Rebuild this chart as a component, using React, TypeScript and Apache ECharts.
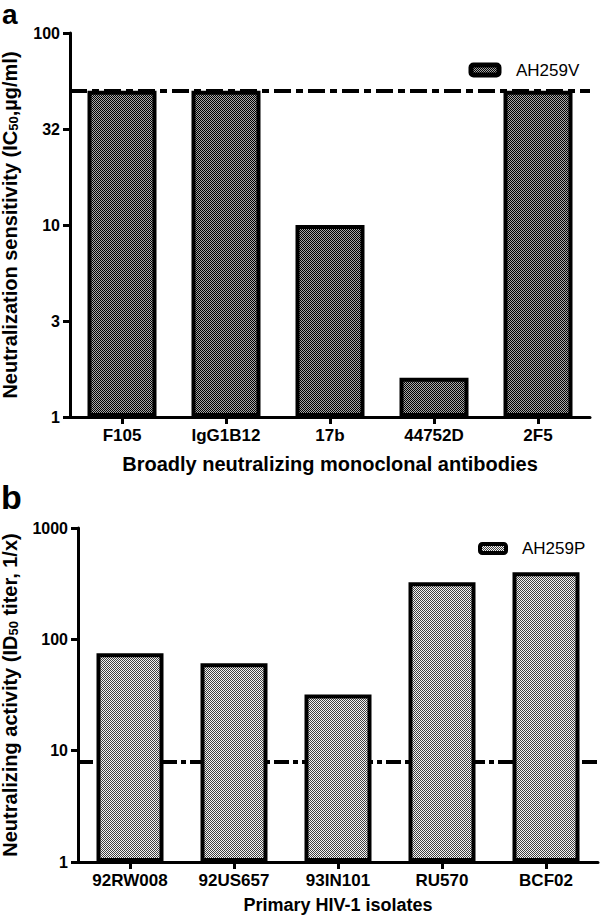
import React, { useEffect, useRef } from "react";
import * as echarts from "echarts";

const aCategories = ["F105", "IgG1B12", "17b", "44752D", "2F5"];
const aValues = [50, 50, 10, 1.6, 50];
const aCutoff = 50;
const aTickLabels = ["1", "3", "10", "32", "100"];
const aSeriesName = "AH259V";

const bCategories = ["92RW008", "92US657", "93IN101", "RU570", "BCF02"];
const bValues = [75, 61, 32, 325, 400];
const bCutoff = 8;
const bTickLabels = ["1", "10", "100", "1000"];
const bSeriesName = "AH259P";

const FONT = "'Liberation Sans', Arial, Helvetica, sans-serif";

function makePattern(dark: string, light: string) {
  const c = document.createElement("canvas");
  c.width = 2;
  c.height = 2;
  const ctx = c.getContext("2d")!;
  ctx.fillStyle = light;
  ctx.fillRect(0, 0, 2, 2);
  ctx.fillStyle = dark;
  ctx.fillRect(0, 0, 1, 1);
  ctx.fillRect(1, 1, 1, 1);
  return { image: c, repeat: "repeat" } as any;
}

export default function App() {
  const ref = useRef<HTMLDivElement>(null);

  useEffect(() => {
    document.body.style.margin = "0";
    const chart = echarts.init(ref.current!, null, { renderer: "svg" });
    const patA = makePattern("#000000", "#a8a8a8");
    const patB = makePattern("#404040", "#f4f4f4");

    const axisLine = { show: true, lineStyle: { color: "#000", width: 3 } };
    const axisTick = { show: true, length: 7, lineStyle: { color: "#000", width: 3 } };
    const tickLabel = { color: "#000", fontSize: 16, fontWeight: "bold", fontFamily: FONT, margin: 10 };
    const catLabel = { color: "#000", fontSize: 17, fontWeight: "bold", fontFamily: FONT, margin: 10 };
    const nameStyle = (size: number) => ({
      color: "#000",
      fontSize: size,
      fontWeight: "bold",
      fontFamily: FONT,
      lineHeight: 20,
      rich: {
        sub: {
          fontSize: 13,
          fontWeight: "bold",
          fontFamily: FONT,
          color: "#000",
          verticalAlign: "bottom",
          lineHeight: 10,
        },
      },
    });

    const option: any = {
      animation: false,
      grid: [
        { left: 70, top: 33, width: 520, height: 384, outerBoundsMode: "none", containLabel: false },
        { left: 78, top: 528, width: 520, height: 334, outerBoundsMode: "none", containLabel: false },
      ],
      legend: [
        {
          data: [aSeriesName],
          left: 468.5,
          top: 61.5,
          padding: 0,
          itemWidth: 28,
          itemHeight: 10,
          selectedMode: false,
          itemStyle: { borderColor: "#000", borderWidth: 5 },
          textStyle: { fontSize: 17, color: "#000", fontFamily: FONT, padding: [0, 0, 0, 12] },
        },
        {
          data: [bSeriesName],
          left: 478,
          top: 540,
          padding: 0,
          itemWidth: 26,
          itemHeight: 9,
          selectedMode: false,
          itemStyle: { borderColor: "#000", borderWidth: 4 },
          textStyle: { fontSize: 17, color: "#000", fontFamily: FONT, padding: [0, 0, 0, 11] },
        },
      ],
      xAxis: [
        {
          gridIndex: 0,
          type: "category",
          data: aCategories,
          axisLine,
          axisTick: { ...axisTick, alignWithLabel: true },
          axisLabel: catLabel,
          name: "Broadly neutralizing monoclonal antibodies",
          nameLocation: "middle",
          nameGap: 37,
          nameTextStyle: { color: "#000", fontSize: 20, fontWeight: "bold", fontFamily: FONT },
        },
        {
          gridIndex: 1,
          type: "category",
          data: bCategories,
          axisLine,
          axisTick: { ...axisTick, alignWithLabel: true },
          axisLabel: catLabel,
          name: "Primary HIV-1 isolates",
          nameLocation: "middle",
          nameGap: 34,
          nameTextStyle: { color: "#000", fontSize: 18, fontWeight: "bold", fontFamily: FONT },
        },
      ],
      yAxis: [
        {
          gridIndex: 0,
          type: "value",
          min: 0,
          max: 2,
          interval: 0.5,
          axisLine,
          axisTick,
          splitLine: { show: false },
          axisLabel: { ...tickLabel, formatter: (v: number) => aTickLabels[Math.round(v / 0.5)] ?? "" },
          name: "Neutralization sensitivity (IC{sub|50},µg/ml)",
          nameLocation: "middle",
          nameRotate: 90,
          nameGap: 50,
          nameTextStyle: nameStyle(20),
        },
        {
          gridIndex: 1,
          type: "value",
          min: 0,
          max: 3,
          interval: 1,
          axisLine,
          axisTick,
          splitLine: { show: false },
          axisLabel: { ...tickLabel, formatter: (v: number) => bTickLabels[Math.round(v)] ?? "" },
          name: "Neutralizing activity (ID{sub|50} titer, 1/x)",
          nameLocation: "middle",
          nameRotate: 90,
          nameGap: 58,
          nameTextStyle: nameStyle(20),
        },
      ],
      series: [
        {
          type: "bar",
          name: aSeriesName,
          xAxisIndex: 0,
          yAxisIndex: 0,
          data: aValues.map((v) => Math.log10(v)),
          barWidth: 69,
          z: 3,
          emphasis: { disabled: true },
          itemStyle: { color: patA, borderColor: "#000", borderWidth: 4 },
          markLine: {
            silent: true,
            symbol: "none",
            z: 2,
            label: { show: false },
            lineStyle: { color: "#000", width: 4, type: [17, 5, 7, 5] },
            emphasis: { disabled: true },
            data: [{ yAxis: Math.log10(aCutoff) }],
          },
        },
        {
          type: "bar",
          name: bSeriesName,
          xAxisIndex: 1,
          yAxisIndex: 1,
          data: bValues.map((v) => Math.log10(v)),
          barWidth: 67,
          z: 3,
          emphasis: { disabled: true },
          itemStyle: { color: patB, borderColor: "#000", borderWidth: 4 },
          markLine: {
            silent: true,
            symbol: "none",
            z: 2,
            label: { show: false },
            lineStyle: { color: "#000", width: 4, type: [15, 4, 5, 4] },
            emphasis: { disabled: true },
            data: [{ yAxis: Math.log10(bCutoff) }],
          },
        },
      ],
      graphic: [
        {
          type: "text",
          left: 2,
          top: 0,
          style: { text: "a", fontSize: 28, lineHeight: 20, fontWeight: "bold", fontFamily: FONT, fill: "#000" },
        },
        {
          type: "text",
          left: 1,
          top: 480,
          style: { text: "b", fontSize: 34, lineHeight: 30, fontWeight: "bold", fontFamily: FONT, fill: "#000" },
        },
      ],
    };
    chart.setOption(option);
    return () => chart.dispose();
  }, []);

  return (
    <div
      ref={ref}
      style={{ position: "absolute", left: 0, top: 0, width: 600, height: 919, background: "#fff" }}
    />
  );
}
